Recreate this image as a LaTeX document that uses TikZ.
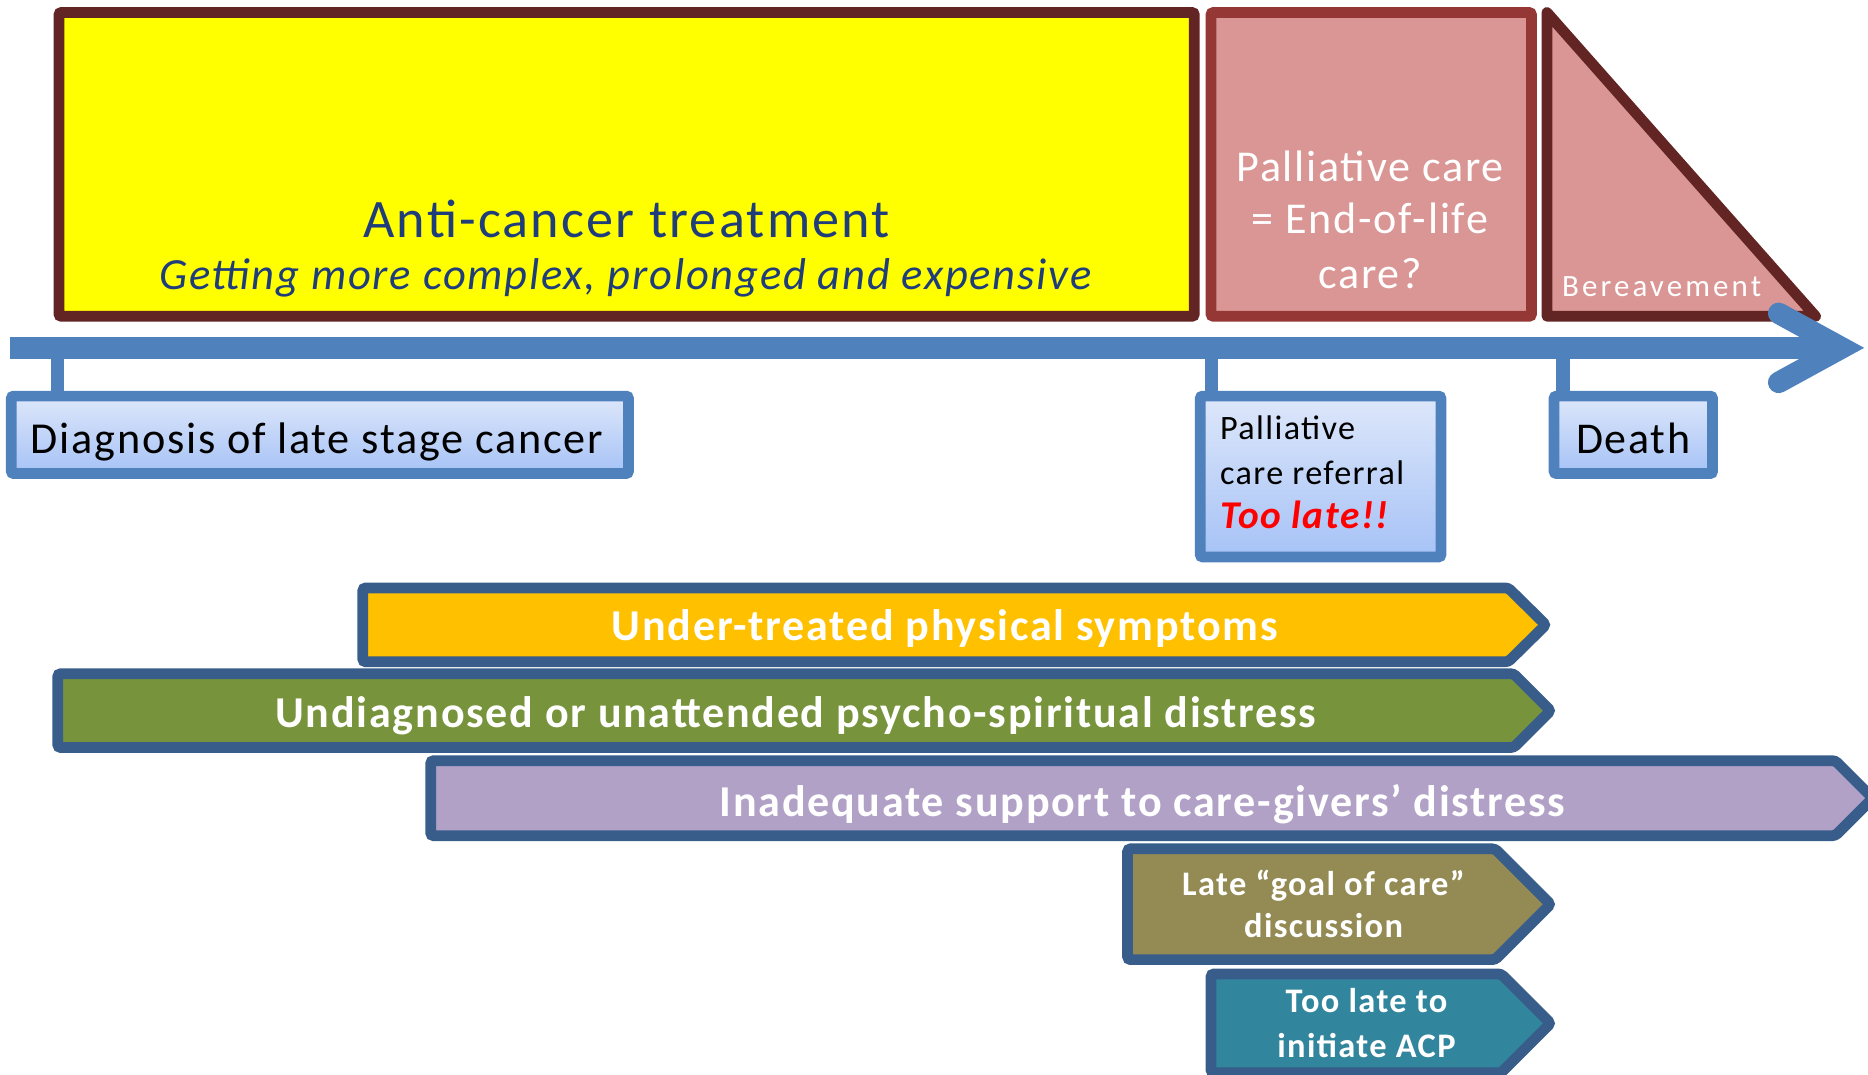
\documentclass[tikz,border=0pt]{standalone}
\usepackage{fontspec}
\setmainfont{Carlito}[LetterSpace=4]
\usetikzlibrary{shadows}

\definecolor{treatfill}{HTML}{FFFF00}
\definecolor{treatline}{HTML}{632523}
\definecolor{pallfill}{HTML}{D99694}
\definecolor{pallline}{HTML}{953735}
\definecolor{axisblue}{HTML}{4F81BD}
\definecolor{navytext}{HTML}{1F3D7A}
\definecolor{boxtop}{HTML}{DDE7FA}
\definecolor{boxbottom}{HTML}{A6C2F6}
\definecolor{bannerline}{HTML}{385D8A}
\definecolor{orangeband}{HTML}{FFC000}
\definecolor{greenband}{HTML}{77933C}
\definecolor{purpleband}{HTML}{B2A1C7}
\definecolor{oliveband}{HTML}{948A54}
\definecolor{tealband}{HTML}{31859C}
\definecolor{alarm}{HTML}{FF0000}

\newcommand{\fsz}[1]{\fontsize{#1}{#1}\selectfont}

\begin{document}
\begin{tikzpicture}[x=1pt,y=-1pt,
  softshadow/.style={drop shadow={shadow xshift=1.5pt, shadow yshift=-3pt, opacity=0.22, fill=black}},
  phase/.style={draw, line width=9pt, rounded corners=2pt, inner sep=0pt, softshadow},
  milestone/.style={draw=axisblue, line width=9pt, rounded corners=2pt, inner sep=0pt,
    top color=boxtop, bottom color=boxbottom, softshadow},
  band/.style={draw=bannerline, line width=9pt, rounded corners=2.5pt},
  bandtext/.style={text=white, font=\bfseries\fsz{37}, anchor=base, inner sep=0pt},
  smallband/.style={text=white, font=\bfseries\fsz{28.9}, anchor=base, inner sep=0pt},
  tickmark/.style={draw=axisblue, line width=11pt},
  axisline/.style={draw=axisblue, line width=18pt},
  label/.style={anchor=base, inner sep=0pt}]

\useasboundingbox (0,0) rectangle (1568,902);
\clip (0,0) rectangle (1568,902);

% ---- phases above the time axis ----
\node[phase, draw=treatline, fill=treatfill, minimum width=953pt, minimum height=255pt]
  (treat) at (526,138) {};
\node[label, text=navytext, font=\fsz{45.5}] (treat1) at (526,199) {Anti-cancer treatment};
\node[label, text=navytext, font=\itshape\fsz{37.4}] (treat2) at (525,243)
  {Getting more complex, prolonged and expensive};

\node[phase, draw=pallline, fill=pallfill, minimum width=269pt, minimum height=255pt]
  (pall) at (1151,138) {};
\node[label, text=white, font=\fsz{37}] (pall1) at (1150,152) {Palliative care};
\node[label, text=white, font=\fsz{37}] (pall2) at (1150,196) {= End-of-life};
\node[label, text=white, font=\fsz{37}] (pall3) at (1150,242) {care?};

\draw[draw=treatline, fill=pallfill, line width=9pt, line join=round]
  (1298.5,10.5) -- (1298.5,265.5) -- (1524,265.5) -- cycle;
\node[label, anchor=base west, text=white, font=\fsz{26}\addfontfeatures{LetterSpace=10}]
  (bereave) at (1311,249) {Bereavement};

% ---- milestone boxes below the axis ----
\node[milestone, minimum width=518pt, minimum height=65pt] (diag) at (268.5,365) {};
\node[label, font=\fsz{37.1}] (diagtext) at (266,381) {Diagnosis of late stage cancer};

\node[milestone, minimum width=202pt, minimum height=135pt] (refer) at (1108.5,400) {};
\node[label, anchor=base west, font=\fsz{28.7}] (refer1) at (1024,369) {Palliative};
\node[label, anchor=base west, font=\fsz{28.7}] (refer2) at (1024,407) {care referral};
\node[label, anchor=base west, text=alarm, font=\bfseries\itshape\fsz{33}] (refer3) at (1024,444) {Too late!!};

\node[milestone, minimum width=133pt, minimum height=65pt] (death) at (1371,365) {};
\node[label, font=\fsz{36.9}] (deathtext) at (1371,381) {Death};

% ---- time axis with its tick marks ----
\coordinate (axisstart) at (8,292);
\coordinate (axistip) at (1546,292);
\coordinate (tdiag) at (48,292);
\coordinate (trefer) at (1017,292);
\coordinate (tdeath) at (1312,292);
\draw[tickmark] (tdiag) -- (tdiag |- diag.north);
\draw[tickmark] (trefer) -- (trefer |- refer.north);
\draw[tickmark] (tdeath) -- (tdeath |- death.north);
\draw[axisline] (axisstart) -- (axistip);
\draw[axisline, line cap=round, line join=miter] (1493,263) -- (axistip) -- (1493,321);

% ---- unmet needs as arrow bands ----
\draw[band, fill=orangeband] (304.5,493.5) -- (1266,493.5) -- (1297.5,524.5) -- (1266,555.5) -- (304.5,555.5) -- cycle;
\node[bandtext] (phys) at (793,538) {Under-treated physical symptoms};

\draw[band, fill=greenband] (48.5,565.5) -- (1270.5,565.5) -- (1301.5,596.5) -- (1270.5,627.5) -- (48.5,627.5) -- cycle;
\node[bandtext] (psych) at (668,611) {Undiagnosed or unattended psycho-spiritual distress};

\draw[band, fill=purpleband] (361.5,638.5) -- (1540.5,638.5) -- (1572,670) -- (1540.5,701.5) -- (361.5,701.5) -- cycle;
\node[bandtext] (carers) at (959,685) {Inadequate support to care-givers’ distress};

\draw[band, fill=oliveband] (946.5,712.5) -- (1255,712.5) -- (1301.5,759) -- (1255,805.5) -- (946.5,805.5) -- cycle;
\node[smallband] (goal1) at (1111,752) {Late “goal of care”};
\node[smallband] (goal2) at (1111,787) {discussion};

\draw[band, fill=tealband] (1016.5,817.5) -- (1260,817.5) -- (1301.5,859) -- (1260,900.5) -- (1016.5,900.5) -- cycle;
\node[smallband] (acp1) at (1147,850) {Too late to};
\node[smallband] (acp2) at (1147,888) {initiate ACP};

\end{tikzpicture}
\end{document}
